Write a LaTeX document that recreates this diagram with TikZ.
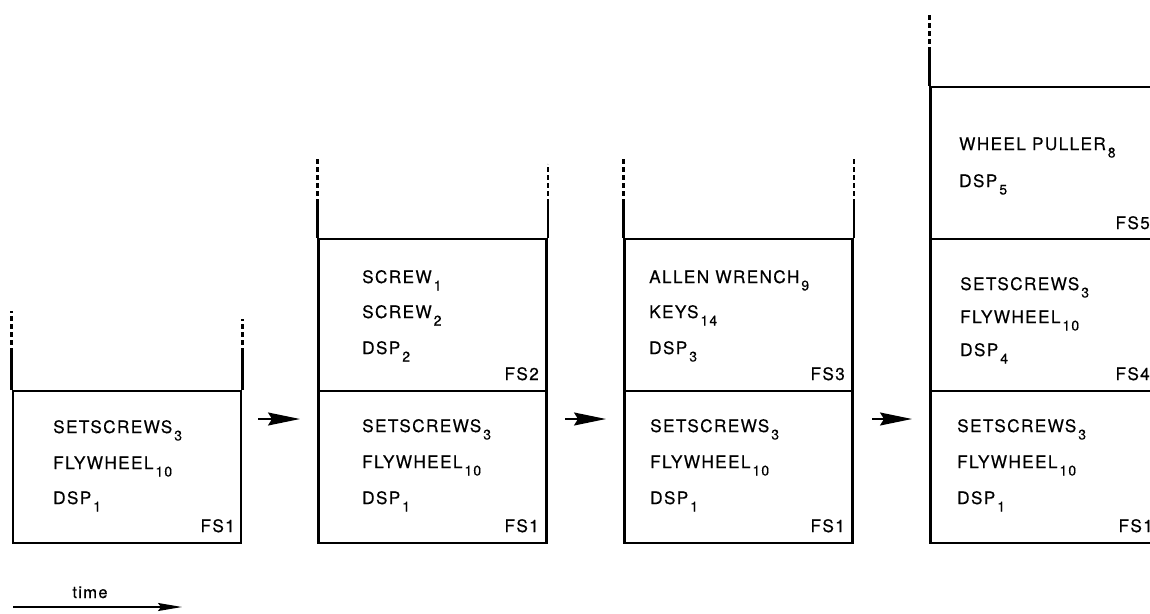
\documentclass[tikz,border=0pt]{standalone}
\usepackage{fontspec}
\usetikzlibrary{arrows.meta}
\newfontfamily\stackfont[LetterSpace=8,FakeBold=0.4]{TeX Gyre Heros}
\newcommand{\idx}[1]{\kern2pt\raisebox{-7.5pt}{\fontsize{14}{14}\selectfont #1}}

\begin{document}
\begin{tikzpicture}[x=1pt,y=-1pt]

\tikzset{frame/.style = {shape=rectangle,draw,line width=2.6pt,minimum width=228pt,minimum height=152pt,inner sep=0pt}}
\tikzset{item/.style = {anchor=base west,inner sep=0pt,font=\stackfont\fontsize{17.2}{20}\selectfont}}
\tikzset{tag/.style = {item,anchor=base east}}
\tikzset{wall/.style = {line width=2.6pt}}
\tikzset{wallend/.style = {line width=2.6pt,dash pattern=on 5pt off 3pt}}
\tikzset{push/.style = {line width=1.6pt,-{Stealth[length=32pt,width=13pt,inset=4pt]}}}

\clip (0,0) rectangle (1150,613);
\useasboundingbox (0,0) rectangle (1150,613);

%frames
\node[frame] (f1) at (127,467) {};
\node[frame] (f21) at (432.5,467) {};
\node[frame] (f22) at (432.5,315) {};
\node[frame] (f31) at (738.5,467) {};
\node[frame] (f33) at (738.5,315) {};
\node[frame] (f41) at (1044.5,467) {};
\node[frame] (f44) at (1044.5,315) {};
\node[frame] (f45) at (1044.5,163) {};

%walls
\draw[wall] (f1.north west) -- ++(0,-42);
\draw[wallend] ([yshift=45pt]f1.north west) -- ++(0,-34);
\draw[wall] (f1.north east) -- ++(0,-42);
\draw[wallend] ([yshift=45pt]f1.north east) -- ++(0,-26);
\draw[wall] (f22.north west) -- ++(0,-39);
\draw[wallend] ([yshift=42pt]f22.north west) -- ++(0,-37);
\draw[wall] (f22.north east) -- ++(0,-39);
\draw[wallend] ([yshift=42pt]f22.north east) -- ++(0,-32);
\draw[wall] (f33.north west) -- ++(0,-39);
\draw[wallend] ([yshift=42pt]f33.north west) -- ++(0,-37);
\draw[wall] (f33.north east) -- ++(0,-39);
\draw[wallend] ([yshift=42pt]f33.north east) -- ++(0,-37);
\draw[wall] (f45.north west) -- ++(0,-39);
\draw[wallend] ([yshift=42pt]f45.north west) -- ++(0,-30);

%FS1
\node[item] (t1a) at (53,433) {SETSCREWS\idx{3}};
\node[item] (t1b) at (53,469) {FLYWHEEL\idx{10}};
\node[item] (t1c) at (53,504) {DSP\idx{1}};
\node[tag] (t1d) at (235,532) {FS1};

%FS2
\node[item] (t2a) at (362,283) {SCREW\idx{1}};
\node[item] (t2b) at (362,318) {SCREW\idx{2}};
\node[item] (t2c) at (362,354) {DSP\idx{2}};
\node[tag] (t2d) at (539,380) {FS2};
\node[item] (t21a) at (362,432) {SETSCREWS\idx{3}};
\node[item] (t21b) at (362,468) {FLYWHEEL\idx{10}};
\node[item] (t21c) at (362,504) {DSP\idx{1}};
\node[tag] (t21d) at (539,532) {FS1};

%FS3
\node[item] (t3a) at (649,283) {ALLEN WRENCH\idx{9}};
\node[item] (t3b) at (649,318) {KEYS\idx{14}};
\node[item] (t3c) at (649,354) {DSP\idx{3}};
\node[tag] (t3d) at (845,380) {FS3};
\node[item] (t31a) at (650,432) {SETSCREWS\idx{3}};
\node[item] (t31b) at (650,468) {FLYWHEEL\idx{10}};
\node[item] (t31c) at (650,504) {DSP\idx{1}};
\node[tag] (t31d) at (845,532) {FS1};

%FS4 and FS5
\node[item] (t5a) at (959,150) {WHEEL PULLER\idx{8}};
\node[item] (t5b) at (959,187) {DSP\idx{5}};
\node[tag] (t5d) at (1150,229) {FS5};
\node[item] (t4a) at (960,290) {SETSCREWS\idx{3}};
\node[item] (t4b) at (960,323) {FLYWHEEL\idx{10}};
\node[item] (t4c) at (960,356) {DSP\idx{4}};
\node[tag] (t4d) at (1150,380) {FS4};
\node[item] (t41a) at (957,432) {SETSCREWS\idx{3}};
\node[item] (t41b) at (957,468) {FLYWHEEL\idx{10}};
\node[item] (t41c) at (957,504) {DSP\idx{1}};
\node[tag] (t41d) at (1153,532) {FS1};

%arrows
\coordinate (p1) at (258,419);
\coordinate (q1) at (300,419);
\coordinate (p2) at (565,419);
\coordinate (q2) at (606,419);
\coordinate (p3) at (872,419);
\coordinate (q3) at (912,419);
\draw[push] (p1) -- (q1);
\draw[push] (p2) -- (q2);
\draw[push] (p3) -- (q3);

%time
\coordinate (ts) at (13,607);
\coordinate (te) at (182,607);
\draw[line width=1.6pt,-{Stealth[length=24pt,width=8pt,inset=3pt]}] (ts) -- (te);
\node[item,anchor=base,font=\stackfont\fontsize{16.5}{18}\selectfont] (time) at (90,598) {time};
\end{tikzpicture}
\end{document}
